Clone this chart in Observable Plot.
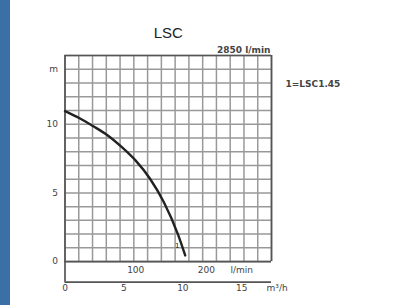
<!DOCTYPE html>
<html><head><meta charset="utf-8">
<script src="https://cdn.jsdelivr.net/npm/d3@7"></script>
<script src="https://cdn.jsdelivr.net/npm/@observablehq/plot@0.6"></script>
<style>
html,body{margin:0;padding:0;background:#fff;width:402px;height:305px;overflow:hidden}
#chart{position:absolute;left:0;top:0}
#bar{position:absolute;left:0;top:0;width:10px;height:305px;background:#3a70a6}
</style></head><body><div id="chart"></div><div id="bar"></div>
<script>
// data (flow in l/min, head in m)
const flowLmin = [0, 20, 40, 60, 80, 100, 120, 140, 160, 170];
const headM    = [10.95, 10.45, 9.85, 9.2, 8.35, 7.35, 6.05, 4.3, 1.95, 0.45];
// tick labels
const yTickValues = [0, 5, 10, 14];
const yTickLabels = ["0", "5", "10", "m"];
const lminTickValues = [100, 200, 250];
const lminTickLabels = ["100", "200", "l/min"];
const m3hTickValues = [0, 5, 10, 15, 18];
const m3hTickLabels = ["0", "5", "10", "15", "m³/h"];
const titleText = "LSC";
const speedLabel = "2850 l/min";
const legendLabel = "1=LSC1.45";
const curveLabel = "1";
const xMax = 292, yMax = 15, yMin = -1.5, gridDivisions = 15;

const curve = flowLmin.map((q, i) => ({q, h: headM[i]}));
const vGrid = d3.range(0, gridDivisions + 1).map(i => i * xMax / gridDivisions);
const hGrid = d3.range(0, yMax + 1);
const yTicks = yTickValues.map((v, i) => ({v, t: yTickLabels[i]}));
const lminTicks = lminTickValues.map((v, i) => ({v, t: lminTickLabels[i]}));
const m3hTicks = m3hTickValues.map((v, i) => ({v: v * 1000 / 60, t: m3hTickLabels[i]}));
const font = "DejaVu Sans, sans-serif";

const chart = Plot.plot({
  width: 402, height: 305,
  marginLeft: 64.5, marginRight: 131, marginTop: 55, marginBottom: 23.3,
  style: {background: "transparent", fontFamily: font},
  x: {domain: [0, xMax], axis: null},
  y: {domain: [yMin, yMax], axis: null},
  marks: [
    Plot.ruleX(vGrid, {y1: 0, y2: yMax, stroke: "#999", strokeWidth: 1.5}),
    Plot.ruleY(hGrid, {x1: 0, x2: xMax, stroke: "#999", strokeWidth: 1.5}),
    Plot.ruleY([0, yMax], {x1: 0, x2: xMax, stroke: "#555", strokeWidth: 1.7}),
    Plot.ruleX([xMax], {y1: 0, y2: yMax, stroke: "#555", strokeWidth: 1.7}),
    Plot.ruleX([0], {y1: yMin, y2: yMax, stroke: "#555", strokeWidth: 1.7}),
    Plot.ruleY([yMin], {x1: 0, x2: xMax, stroke: "#555", strokeWidth: 1.7}),
    Plot.line(curve, {x: "q", y: "h", curve: "monotone-x", stroke: "#222", strokeWidth: 2.4}),
    Plot.text([curve[curve.length - 1]], {x: "q", y: "h", text: () => curveLabel, dx: -8, dy: -10, fontSize: 7, fill: "#222", fontFamily: font}),
    Plot.text(yTicks, {x: 0, y: "v", text: "t", dx: -7, textAnchor: "end", fontSize: 9, fill: "#444", fontFamily: font}),
    Plot.text(lminTicks, {x: "v", y: 0, text: "t", dy: 8.5, fontSize: 9, fill: "#444", fontFamily: font}),
    Plot.text(m3hTicks, {x: "v", frameAnchor: "bottom", text: "t", dy: 8.5, fontSize: 9, fill: "#444", fontFamily: font}),
    Plot.text([titleText], {frameAnchor: "top", dy: -18, lineAnchor: "bottom", fontSize: 15, fill: "#222", fontFamily: "Liberation Sans, sans-serif"}),
    Plot.text([speedLabel], {frameAnchor: "top-right", dx: -1, dy: -3, textAnchor: "end", lineAnchor: "bottom", fontSize: 9, fontWeight: "bold", fill: "#444", fontFamily: font}),
    Plot.text([legendLabel], {frameAnchor: "top-right", dx: 14, dy: 29, textAnchor: "start", lineAnchor: "middle", fontSize: 9, fontWeight: "bold", fill: "#444", fontFamily: font})
  ]
});
document.getElementById("chart").appendChild(chart);
</script></body></html>
